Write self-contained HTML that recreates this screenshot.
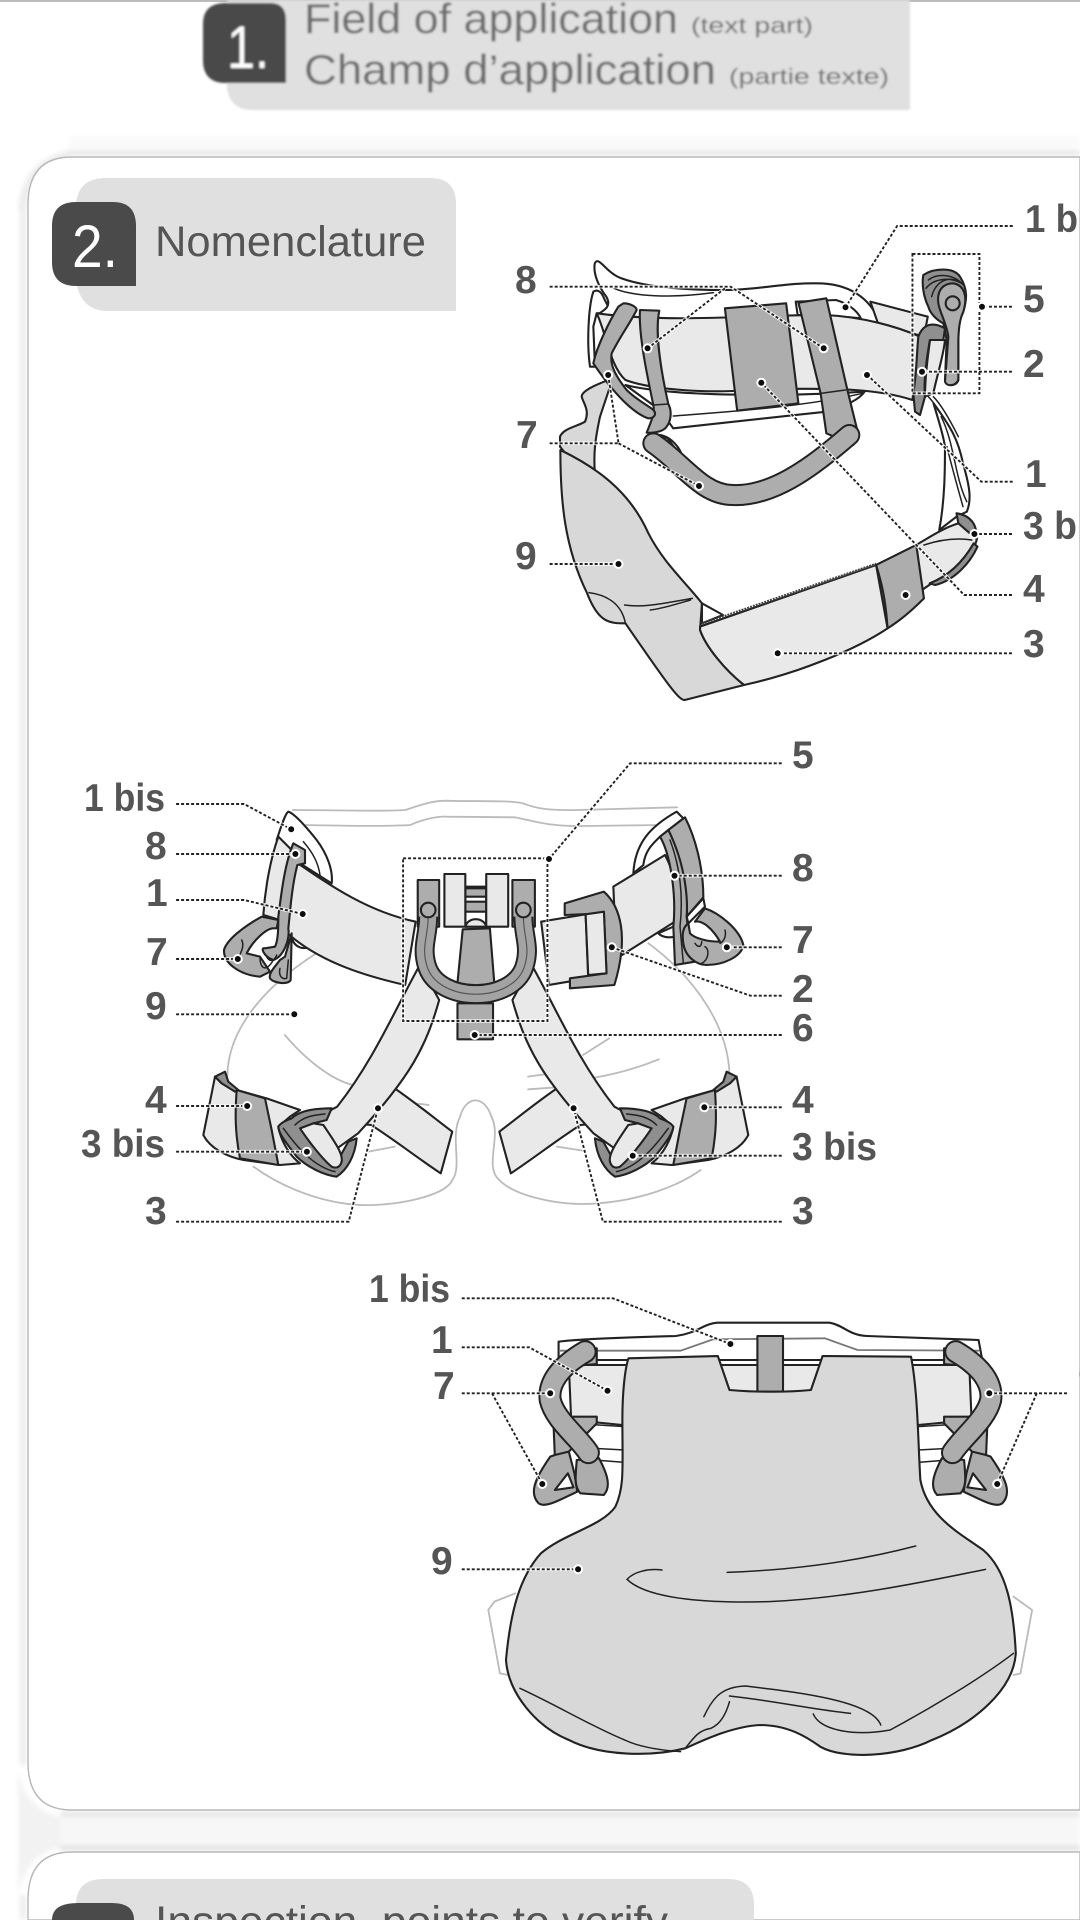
<!DOCTYPE html>
<html>
<head>
<meta charset="utf-8">
<style>
html,body{margin:0;padding:0;background:#fff;width:1080px;height:1920px;overflow:hidden}
svg{display:block;font-family:"Liberation Sans",sans-serif}
svg *{vector-effect:non-scaling-stroke}
.o{stroke:#222;stroke-width:2.1;stroke-linejoin:round;stroke-linecap:round}
.t{stroke:#222;stroke-width:1.5;fill:none;stroke-linecap:round}
.g{stroke:#bbb;stroke-width:1.8;fill:none;stroke-linecap:round}
.w{fill:#fff}.l{fill:#e9e9e9}.m{fill:#d8d8d8}.d{fill:#adadad}.k{fill:#8f8f8f}
.ld{stroke:#222;stroke-width:1.9;fill:none;stroke-dasharray:3 2}
.halo{stroke:#fff;stroke-width:3.6;fill:none;opacity:.8}
.dot circle{r:4px;fill:#111;stroke:#fff;stroke-width:2}
.lb text{font-weight:bold;font-size:39px;fill:#555}
</style>
</head>
<body>
<svg width="1080" height="1920" viewBox="0 0 1080 1920" xmlns="http://www.w3.org/2000/svg">
<defs>
<filter id="b1" x="-5%" y="-5%" width="110%" height="110%"><feGaussianBlur stdDeviation="1"/></filter>
<filter id="b2" x="-5%" y="-5%" width="110%" height="110%"><feGaussianBlur stdDeviation="0.35"/></filter>
<filter id="b3" x="-5%" y="-5%" width="110%" height="110%"><feGaussianBlur stdDeviation="2.5"/></filter>

<!-- leg detail, traced at 3x -->
<g id="legC" transform="translate(200,1060) scale(.33333)">
  <path class="o l" d="M45,50 L10,225 C30,265 80,290 130,300 L240,315 L300,310 C260,280 240,230 235,200 L270,170 L300,150 L200,115 L110,90 L65,70 Z"/>
  <path class="o k" d="M45,50 L75,35 L85,65 L115,90 L105,95 L65,70 Z"/>
  <path class="o d" d="M110,90 L195,115 L215,210 L235,315 L120,295 C105,220 105,160 110,90 Z"/>
  <path class="o k" d="M275,175 C300,150 350,145 395,145 L380,180 L340,190 L420,290 L445,245 L470,235 C465,290 440,330 410,350 C370,345 320,320 290,290 C260,250 235,220 235,200 C240,190 260,180 275,175 Z"/>
  <path class="t" d="M250,205 C290,260 340,320 405,335 M285,195 C310,170 340,165 375,162"/>
  <path class="o l" d="M340,190 L370,195 C400,240 430,280 425,305 C420,325 405,325 395,320 C370,300 330,250 300,205 Z"/>
</g>

<g id="g3half">
  <path class="o d" d="M480,270 L530,265 L530,312 L480,318 Z"/>
  <path class="o d" d="M437,490 L440,590 L470,575 L530,490 L530,470 L470,470 Z"/>
  <path class="o d" d="M440,585 L470,575 L482,640 L488,695 C450,720 420,745 405,730 C385,700 395,660 430,590 Z"/>
  <path class="o w" d="M440,690 L468,640 L480,682 Z"/>
  <path class="o d" d="M487,600 L535,595 C552,640 562,680 545,705 L495,700 C480,680 485,640 487,600 Z"/>
  <path fill="none" stroke="#222" stroke-width="23" stroke-linecap="round" d="M505,275 C450,320 425,370 430,420 C440,480 490,530 512,578"/>
  <path fill="none" stroke="#adadad" stroke-width="19" stroke-linecap="round" d="M505,275 C450,320 425,370 430,420 C440,480 490,530 512,578"/>
</g>

<g id="L1">
  <path d="M1392,78 L1090,78 L955,322"/>
  <path d="M1390,320 L1312,320"/>
  <path d="M1390,515 L1155,515"/>
  <path d="M1392,845 L1310,845 L1012,525"/>
  <path d="M1390,1002 L1292,1002"/>
  <path d="M1390,1185 L1265,1185 L735,548"/>
  <path d="M1390,1360 L778,1360"/>
  <path d="M182,260 L655,260 L898,445 M640,265 L438,445"/>
  <path d="M182,730 L362,730 L335,525 M362,730 L572,858"/>
  <path d="M182,1092 L362,1092"/>
  <path d="M1130,162 H1305 V580 H1130 Z"/>
</g>
<g id="L2">
  <path d="M222,222 L352,222 L442,298"/>
  <path d="M222,372 L450,372"/>
  <path d="M222,510 L352,510 L464,552"/>
  <path d="M222,687 L340,687"/>
  <path d="M222,853 L448,853"/>
  <path d="M222,1128 L358,1128"/>
  <path d="M222,1265 L472,1265"/>
  <path d="M222,1475 L552,1475 L608,1135"/>
  <path d="M1380,100 L1090,100 L935,387"/>
  <path d="M1380,437 L1175,437"/>
  <path d="M1380,652 L1275,652"/>
  <path d="M1380,797 L1320,797 L1055,652"/>
  <path d="M1380,915 L793,915"/>
  <path d="M1380,1132 L1232,1132"/>
  <path d="M1380,1277 L1095,1277"/>
  <path d="M1380,1475 L1038,1475 L982,1135"/>
  <path d="M656,385 H932 V873 H656 Z"/>
</g>
<g id="L3">
  <path d="M240,115 L565,115 L817,252"/>
  <path d="M240,262 L385,262 L553,392"/>
  <path d="M240,400 L430,400 M305,400 L413,672"/>
  <path d="M240,928 L490,928"/>
  <path d="M1540,400 L1373,400 M1475,400 L1390,672"/>
</g>
</defs>

<rect x="0" y="0" width="1080" height="2" fill="#bbb"/>

<!-- panel shadows -->
<g filter="url(#b3)">
  <rect x="70" y="136" width="1010" height="14" fill="#fafafa"/>
  <rect x="70" y="151" width="1010" height="4" fill="#e2e2e2"/>
  <rect x="20" y="205" width="6" height="1560" fill="#ededed"/>
  <rect x="20" y="1895" width="6" height="25" fill="#ededed"/>
  <path d="M18,210 Q22,160 70,150 L70,160 Q30,165 26,210 Z" fill="#ececec"/>
  <path d="M18,1770 Q26,1815 70,1818 L70,1846 Q26,1850 18,1895 Z" fill="#f2f2f2"/>
  <rect x="60" y="1812" width="1020" height="4" fill="#e2e2e2"/>
  <rect x="60" y="1816" width="1020" height="30" fill="#f7f7f7"/>
  <rect x="60" y="1846" width="1020" height="4" fill="#dcdcdc"/>
</g>

<!-- Header 1 -->
<g filter="url(#b1)">
  <path d="M227,0 H910 V110 H252 Q230,110 227,88 Z" fill="#e0e0e0"/>
  <path d="M203,24 Q203,3 226,3 H270 Q286,3 286,20 V83 H226 Q203,83 203,60 Z" fill="#4a4a4a"/>
  <text x="227" y="68" font-size="60" fill="#fff" textLength="42" lengthAdjust="spacingAndGlyphs">1.</text>
  <text x="304" y="33" font-size="42" fill="#6c6c6c" textLength="374" lengthAdjust="spacingAndGlyphs">Field of application</text>
  <text x="691" y="33" font-size="22" fill="#6c6c6c" textLength="122" lengthAdjust="spacingAndGlyphs">(text part)</text>
  <text x="304" y="84" font-size="42" fill="#6c6c6c" textLength="412" lengthAdjust="spacingAndGlyphs">Champ d’application</text>
  <text x="729" y="84" font-size="22" fill="#6c6c6c" textLength="160" lengthAdjust="spacingAndGlyphs">(partie texte)</text>
</g>

<!-- Panel 2 -->
<path d="M1080,157 H72 Q28,157 28,205 V1762 Q28,1810 72,1810 H1080 Z" fill="#fff" stroke="#b8b8b8" stroke-width="1.4"/>
<path d="M76,208 Q76,178 106,178 H430 Q456,178 456,204 V311 H108 Q80,311 76,280 Z" fill="#e0e0e0"/>
<path d="M52,226 Q52,202 76,202 H113 Q136,202 136,226 V286 H76 Q52,286 52,262 Z" fill="#4a4a4a"/>
<text x="72" y="267" font-size="60" fill="#fff" textLength="46" lengthAdjust="spacingAndGlyphs">2.</text>
<text x="155" y="256" font-size="43" fill="#555" textLength="271" lengthAdjust="spacingAndGlyphs">Nomenclature</text>

<!-- Panel 3 -->
<path d="M1080,1852 H72 Q28,1852 28,1900 V1920 H1080 Z" fill="#fff" stroke="#b8b8b8" stroke-width="1.4"/>
<path d="M76,1920 V1905 Q76,1879 104,1879 H728 Q754,1879 754,1905 V1920 Z" fill="#e0e0e0"/>
<path d="M52,1920 Q52,1903 78,1903 H112 Q134,1903 134,1920 Z" fill="#4a4a4a"/>
<text x="155" y="1936" font-size="43" fill="#555" textLength="513" lengthAdjust="spacingAndGlyphs">Inspection, points to verify</text>

<g filter="url(#b2)">
<!-- ============ VIEW 1 ============ -->
<g transform="translate(540,250) scale(.33333)">
  <path class="o w" d="M150,350 C140,280 145,170 160,125 C175,115 185,130 190,140 C200,165 210,175 215,190 L170,190 L160,230 L165,350 Z"/>
  <path class="o m" d="M205,390 C180,400 125,420 125,440 C130,460 150,480 135,515 C110,530 70,535 60,560 L60,590 C90,630 130,660 165,675 C160,610 165,570 180,500 C190,470 200,440 210,410 Z"/>
</g>
<g transform="translate(480,200) scale(.3827,.33333)">
  <path class="o w" d="M300,190 C310,165 330,220 370,235 C430,260 520,270 640,270 C720,270 800,248 880,250 C960,250 1020,290 1045,370 L880,345 L340,370 L305,345 C325,330 345,320 330,290 C310,260 295,220 300,190 Z"/>
  <path class="t" d="M350,265 C400,290 500,295 610,278"/>
  <path class="o w" d="M930,300 C960,310 985,330 995,355 L900,345 L830,345 L825,305 Z"/>
  <path class="o l" d="M1020,305 L1170,350 L1160,410 L1040,370 Z"/>
  <path class="o l" d="M305,340 C500,370 700,345 900,345 C1000,350 1090,380 1150,410 L1130,600 C1050,570 950,560 700,570 C600,580 450,570 380,540 C340,500 330,400 305,340 Z"/>
  <path class="o w" d="M380,555 C500,590 800,590 1005,575 C990,600 950,620 905,635 L505,685 L470,630 Z"/>
  <path class="t" d="M505,648 C650,635 850,620 1000,580"/>
  <path class="o d" d="M640,325 L800,310 L832,610 L672,632 Z"/>
  <path class="o d" d="M832,308 L905,295 L960,570 L990,710 L975,735 L905,700 L890,580 Z"/>
  <path class="t" d="M890,580 L955,570"/>
  <path class="o w" d="M470,705 C500,710 525,745 530,775 L490,715 Z"/>
  <path fill="none" stroke="#222" stroke-width="22" stroke-linecap="round" d="M453,730 C530,790 580,885 660,885 C760,890 860,810 965,705"/>
  <path fill="none" stroke="#adadad" stroke-width="18" stroke-linecap="round" d="M453,730 C530,790 580,885 660,885 C760,890 860,810 965,705"/>
</g>
<g transform="translate(540,250) scale(.33333)">
  <path class="o d" d="M300,180 L358,182 C345,240 360,350 385,462 C395,480 395,510 380,530 C370,545 340,550 320,548 C335,510 345,490 340,465 C320,370 295,250 300,180 Z"/>
  <path class="t" d="M340,465 L385,462"/>
  <path class="o d" d="M250,160 C270,160 290,170 290,180 C270,220 240,260 215,310 C210,340 220,370 260,420 C290,450 330,470 340,480 C350,490 345,505 325,505 C280,490 220,430 160,340 C170,290 210,210 235,170 Z"/>
</g>
<g transform="translate(480,200) scale(.3827,.33333)">
  <path class="o m" d="M210,750 C300,800 390,870 440,1000 C480,1090 540,1150 580,1210 L575,1290 C590,1340 640,1410 690,1455 L535,1500 C520,1500 500,1470 380,1270 C340,1270 310,1270 280,1180 C220,1040 210,900 210,750 Z"/>
  <path class="t" d="M285,1178 C330,1185 370,1210 380,1270"/>
  <path class="t" d="M378,1215 C430,1225 500,1205 555,1195 M445,1230 C480,1225 520,1210 550,1200"/>
  <path class="o w" d="M580,1210 L635,1245 L580,1270 Z"/>
  <path class="o w" d="M1185,610 C1230,680 1250,720 1262,790 C1280,860 1285,900 1272,935 L1245,950 L1200,990 C1215,900 1215,800 1215,740 C1210,700 1195,650 1185,610 Z"/>
  <path class="t" d="M1205,650 C1240,730 1240,830 1272,905 M1220,740 C1235,810 1250,870 1262,920"/>
  <path class="o l" d="M1250,960 C1300,970 1305,1000 1295,1030 C1280,1070 1240,1120 1180,1150 L1155,1170 L1140,1035 C1190,1000 1220,980 1250,970 Z"/>
  <path class="t" d="M1160,1035 C1200,1020 1240,1012 1285,1020"/>
  <path class="o k" d="M1245,940 C1280,945 1302,975 1295,1015 L1250,970 Z"/>
  <path class="o k" d="M1175,1150 C1220,1130 1260,1090 1290,1030 L1300,1040 C1280,1090 1240,1140 1190,1155 Z"/>
  <path class="o l" d="M575,1280 L1035,1095 L1065,1285 C980,1350 830,1420 690,1455 C640,1410 590,1340 575,1290 Z"/>
  <path d="M580,1272 L1035,1092" stroke="#444" stroke-width="2.6" fill="none" stroke-dasharray="2 1"/>
  <path class="o d" d="M1035,1095 L1140,1035 L1160,1195 C1130,1230 1100,1260 1065,1285 C1060,1200 1050,1150 1035,1095 Z"/>
</g>
<!-- bridge attachment end view -->
<g transform="translate(900,240) scale(.33333)">
  <path class="t" d="M85,470 C105,490 130,530 160,580 M100,470 C120,490 145,530 175,590"/>
  <path class="o k" d="M70,105 C100,85 160,80 180,110 C205,150 200,180 190,215 L175,250 L175,420 C170,440 140,440 135,420 L140,300 L130,250 C110,240 90,220 85,200 C70,170 65,130 70,105 Z"/>
  <path class="t" d="M85,120 C110,100 160,100 190,135 M95,170 C105,130 140,105 175,125 M78,145 C100,115 150,110 185,130"/>
  <path class="o d" d="M115,190 C110,150 130,130 160,130 C190,135 205,165 190,215 C178,240 176,270 175,300 L175,420 C165,440 140,440 135,425 L145,290 C140,250 120,220 115,190 Z"/>
  <circle class="o d" cx="158" cy="190" r="21"/>
  <path class="o k" d="M55,290 C70,250 100,245 135,265 L130,300 L90,300 C80,350 70,430 75,470 L60,525 L45,515 L40,460 C50,400 50,340 55,290 Z"/>
  <path class="o l" d="M90,300 L135,300 C130,350 110,410 100,460 L75,470 C75,400 85,340 90,300 Z"/>
</g>
<g transform="translate(480,200) scale(.3827,.33333)">
  <use href="#L1" class="halo"/>
  <use href="#L1" class="ld"/>
</g>

<!-- ============ VIEW 2 ============ -->
<g transform="translate(60,730) scale(.523,.33333)">
  <path class="g" d="M445,240 C520,240 620,245 660,240 C690,225 710,212 740,212 C780,215 860,210 885,220 C910,235 930,242 990,240 L1180,232"/>
  <path class="g" d="M470,285 C550,288 620,290 670,285 C690,270 720,258 740,260 L870,262 C900,270 930,290 1000,288 L1150,285"/>
  <path class="g" d="M490,670 C390,770 320,900 320,1040"/>
  <path class="g" d="M370,1310 C440,1390 530,1430 600,1425 C670,1420 740,1390 750,1350 C770,1310 745,1220 765,1160 C775,1100 810,1090 825,1160 C845,1220 810,1310 840,1350 C870,1400 960,1430 1030,1420 C1110,1410 1180,1370 1225,1320"/>
  <path class="g" d="M1125,640 C1220,750 1280,900 1280,1040"/>
  <path class="g" d="M430,915 C470,990 520,1050 560,1065 M1050,925 L1000,975 M1145,988 C1080,1030 1020,1045 990,1050 M895,1040 L940,1030 M895,1078 L950,1072 M650,1115 L705,1125 M590,1265 L640,1250 M950,1250 L1000,1262"/>
</g>
<!-- left hip, behind belt -->
<g transform="translate(210,800) scale(.33333)">
  <path class="o w" d="M235,35 C250,40 280,70 320,120 C350,160 370,210 365,250 L270,190 L200,120 C210,90 225,40 235,35 Z"/>
  <path class="t" d="M280,125 C310,160 325,190 330,225"/>
  <path class="o w" d="M245,410 C250,440 280,455 305,435 L270,400 Z"/>
</g>
<!-- right hip, behind belt -->
<g transform="translate(620,810) scale(.33333)">
  <path class="o w" d="M170,5 C90,50 45,100 40,190 L70,165 C75,120 100,100 120,80 L190,25 Z"/>
  <path class="o w" d="M115,370 C130,385 160,385 170,375 L160,350 Z"/>
  <path class="o l" d="M-20,230 L135,135 C170,200 180,280 165,335 L-10,445 Z"/>
</g>
<g transform="translate(60,730) scale(.523,.33333)">
  <path class="o l" d="M455,400 C520,470 590,545 680,575 L660,765 C590,740 500,700 435,610 C430,520 440,450 455,400 Z"/>
  <path class="o l" d="M920,575 L1005,553 L1010,745 L935,765 Z"/>
  <path class="o d" d="M965,520 L1040,485 C1072,530 1088,620 1060,765 L975,775 L975,745 L1045,730 L1040,550 L965,555 Z"/>
  <path class="o l" d="M1005,553 L1040,545 L1045,730 L1010,735 Z"/>
  <path class="o l" d="M640,1075 C690,1130 720,1170 750,1205 L728,1330 C680,1280 640,1230 595,1185 L560,1180 Z"/>
  <path class="o l" d="M950,1075 C900,1130 870,1170 840,1205 L862,1330 C910,1280 950,1230 995,1185 L1030,1180 Z"/>
  <path class="o l" d="M688,705 L725,810 C700,950 670,1040 570,1210 L530,1255 L470,1180 L530,1130 C600,990 640,840 688,705 Z"/>
  <path class="o l" d="M902,705 L865,810 C890,950 920,1040 1020,1210 L1060,1255 L1120,1180 L1060,1130 C990,990 950,840 902,705 Z"/>
</g>
<use href="#legC"/>
<use href="#legC" transform="translate(951.6,0) scale(-1,1)"/>
<!-- right hip, front -->
<g transform="translate(620,810) scale(.33333)">
  <path class="o d" d="M195,22 L145,60 C175,120 205,240 200,320 L250,262 C250,170 225,80 195,22 Z"/>
  <path class="o d" d="M120,80 L145,60 C190,150 205,250 200,320 L205,370 L225,455 L165,465 L160,350 C170,250 150,130 120,80 Z"/>
  <path class="t" d="M150,90 C180,170 190,260 180,350 L190,460"/>
  <path class="o w" d="M200,320 L250,265 L255,290 L205,340 Z"/>
  <path class="o d" d="M255,295 C300,310 360,360 370,405 C365,440 310,465 260,465 C230,465 195,440 190,400 C185,370 190,350 205,340 L210,370 C225,385 260,395 300,395 C280,360 250,330 225,335 Z"/>
  <path class="t" d="M315,360 C320,380 310,395 300,400 M225,400 C235,415 245,410 245,395 M255,410 C270,420 265,450 245,460"/>
</g>
<!-- left hip, front -->
<g transform="translate(210,800) scale(.33333)">
  <path class="o l" d="M205,110 L245,150 C230,220 215,300 210,360 L160,345 C165,270 180,180 205,110 Z"/>
  <path class="o d" d="M210,480 C195,500 175,520 180,535 C190,550 235,555 242,540 L245,400 L225,470 Z"/>
  <path class="t" d="M210,505 C205,525 215,540 230,535 L235,480"/>
  <path class="o d" d="M155,350 C100,380 50,420 42,450 C40,490 90,525 150,530 L180,515 L150,470 L110,460 C130,420 170,385 190,385 L200,385 L205,360 Z"/>
  <path class="o d" d="M250,130 L285,150 L285,190 L262,195 C245,260 240,340 235,385 C240,420 220,470 190,480 C160,470 150,440 165,445 L195,440 C205,420 205,380 205,350 C215,270 225,190 250,130 Z"/>
  <path class="t" d="M95,420 C105,440 90,460 90,465 M150,470 C150,510 170,515 190,480 M170,470 C180,490 195,480 200,465"/>
</g>
<!-- central attachment -->
<g transform="translate(60,730) scale(.523,.33333)">
  <path class="o w" d="M775,470 L815,470 L815,590 L775,590 Z"/>
  <path class="o d" d="M775,475 L815,475 L815,500 L775,500 Z M775,515 L815,515 L815,545 L775,545 Z"/>
  <path class="o l" d="M735,432 L775,432 L775,590 L735,590 Z"/>
  <path class="o l" d="M815,432 L857,432 L857,590 L815,590 Z"/>
  <path class="o d" d="M684,450 L725,450 L725,590 L684,590 Z"/>
  <path class="o d" d="M865,450 L908,450 L908,590 L865,590 Z"/>
  <path class="o l" d="M775,590 C780,560 810,560 815,590 Z"/>
  <path class="o d" d="M770,598 L822,595 L832,790 L758,790 Z"/>
  <path class="o d" d="M760,820 L828,820 L828,928 L760,928 Z"/>
  <path fill="none" stroke="#222" stroke-width="20" d="M704,560 C704,620 690,650 702,710 C725,820 865,820 888,710 C900,650 886,620 886,560"/>
  <path fill="none" stroke="#a3a3a3" stroke-width="16" d="M704,560 C704,620 690,650 702,710 C725,820 865,820 888,710 C900,650 886,620 886,560"/>
  <path fill="none" stroke="#555" stroke-width="1.2" d="M704,560 C704,620 690,650 702,710 C725,820 865,820 888,710 C900,650 886,620 886,560"/>
  <ellipse class="o d" cx="704" cy="540" rx="14" ry="22"/>
  <ellipse class="o d" cx="886" cy="540" rx="14" ry="22"/>
  <use href="#L2" class="halo"/>
  <use href="#L2" class="ld"/>
</g>

<!-- ============ VIEW 3 ============ -->
<g transform="translate(350,1260) scale(.4656,.33333)">
  <path class="g" d="M355,1000 L310,1025 L297,1050 L322,1240 L340,1245"/>
  <path class="g" d="M1425,1010 L1465,1050 L1440,1240 L1425,1245"/>
  <path class="o w" d="M448,300 L448,245 C500,235 650,230 700,228 C745,220 760,190 790,188 L1030,188 C1060,195 1070,225 1110,228 L1350,240 L1358,300 Z"/>
  <path class="g" style="stroke:#777" d="M450,272 L710,272 L780,238 L1020,235 L1090,270 L1350,272"/>
  <path class="o l" d="M470,315 L1330,315 L1335,480 L1220,495 L585,495 L475,480 Z"/>
  <path class="t" d="M480,490 L590,500 M1220,500 L1330,490 M525,565 L590,570 M525,600 L590,607 M1220,570 L1285,565 M1220,607 L1285,600"/>
  <use href="#g3half"/>
  <use href="#g3half" transform="translate(1806,0) scale(-1,1)"/>
  <path class="o d" d="M875,228 L930,228 L930,395 L875,395 Z"/>
  <path class="o m" d="M598,295 L790,288 L815,390 C870,397 940,397 990,390 L1015,288 L1205,290 C1220,400 1220,550 1225,660 C1240,770 1310,820 1360,870 C1410,930 1425,1040 1430,1180 C1425,1290 1340,1390 1250,1440 C1180,1490 1060,1500 1010,1460 C980,1430 940,1395 880,1395 C820,1400 760,1440 720,1465 C650,1490 540,1490 470,1440 C400,1400 340,1300 335,1200 C345,1050 365,950 410,880 C460,820 540,800 570,740 C590,680 585,620 585,480 C585,400 590,330 598,295 Z"/>
  <path class="t" d="M810,937 C960,930 1100,900 1215,858"/>
  <path class="t" d="M670,930 C640,925 610,935 595,958 C640,1020 780,1030 900,1025 C1060,1015 1220,970 1365,928"/>
  <path class="t" d="M365,1285 C450,1340 520,1400 590,1440 C620,1460 660,1470 710,1475"/>
  <path class="t" d="M720,1465 C740,1430 750,1410 775,1405 C800,1390 810,1350 815,1325"/>
  <path class="t" d="M760,1370 C780,1310 800,1280 850,1278 C950,1295 1120,1320 1140,1395"/>
  <path class="t" d="M815,1308 C900,1320 1000,1350 1075,1360"/>
  <path class="t" d="M995,1362 C1010,1410 1080,1430 1160,1410 C1240,1350 1350,1260 1425,1180"/>
  <use href="#L3" class="halo"/>
  <use href="#L3" class="ld"/>
</g>

<!-- Dots -->
<g class="dot">
  <circle cx="845.5" cy="307.3"/><circle cx="982" cy="306.7"/><circle cx="922" cy="371.7"/><circle cx="867" cy="375"/>
  <circle cx="647.6" cy="348.3"/><circle cx="823.7" cy="348.3"/><circle cx="761.3" cy="382.7"/><circle cx="608.2" cy="375"/>
  <circle cx="699" cy="486"/><circle cx="618.5" cy="564"/><circle cx="974.4" cy="534"/><circle cx="905.6" cy="595"/><circle cx="777.7" cy="653.3"/>
  <circle cx="291.2" cy="829.3"/><circle cx="295.4" cy="854"/><circle cx="302.7" cy="914"/><circle cx="237.8" cy="959"/>
  <circle cx="294.3" cy="1014.3"/><circle cx="247.2" cy="1106"/><circle cx="306.9" cy="1151.7"/><circle cx="378" cy="1108.3"/>
  <circle cx="549" cy="859"/><circle cx="674.5" cy="875.7"/><circle cx="726.8" cy="947.3"/><circle cx="611.8" cy="947.3"/>
  <circle cx="474.7" cy="1035"/><circle cx="704.3" cy="1107.3"/><circle cx="632.7" cy="1155.7"/><circle cx="573.6" cy="1108.3"/>
  <circle cx="730.4" cy="1344"/><circle cx="607.5" cy="1390.7"/><circle cx="550.2" cy="1393.3"/><circle cx="542.3" cy="1484"/>
  <circle cx="989.3" cy="1393.3"/><circle cx="997.2" cy="1484"/><circle cx="578.1" cy="1569.3"/>
</g>

<!-- Labels -->
<g class="lb">
  <text x="1025" y="232" textLength="53" lengthAdjust="spacingAndGlyphs">1 b</text>
  <text x="515" y="293">8</text>
  <text x="1023" y="312">5</text>
  <text x="1023" y="377">2</text>
  <text x="1025" y="487">1</text>
  <text x="1023" y="539" textLength="54" lengthAdjust="spacingAndGlyphs">3 b</text>
  <text x="1023" y="602">4</text>
  <text x="1023" y="657">3</text>
  <text x="516" y="448">7</text>
  <text x="515" y="569">9</text>

  <text x="792" y="768">5</text>
  <text x="84" y="811" textLength="81" lengthAdjust="spacingAndGlyphs">1 bis</text>
  <text x="145" y="859">8</text>
  <text x="146" y="906">1</text>
  <text x="146" y="965">7</text>
  <text x="145" y="1019">9</text>
  <text x="145" y="1113">4</text>
  <text x="81" y="1157" textLength="84" lengthAdjust="spacingAndGlyphs">3 bis</text>
  <text x="145" y="1224">3</text>
  <text x="792" y="881">8</text>
  <text x="792" y="953">7</text>
  <text x="792" y="1002">2</text>
  <text x="792" y="1041">6</text>
  <text x="792" y="1113">4</text>
  <text x="792" y="1160" textLength="85" lengthAdjust="spacingAndGlyphs">3 bis</text>
  <text x="792" y="1224">3</text>

  <text x="369" y="1302" textLength="81" lengthAdjust="spacingAndGlyphs">1 bis</text>
  <text x="431" y="1353">1</text>
  <text x="433" y="1399">7</text>
  <text x="431" y="1574">9</text>
  <text x="1078" y="1399">7</text>
</g>
</g>
</svg>
</body>
</html>
